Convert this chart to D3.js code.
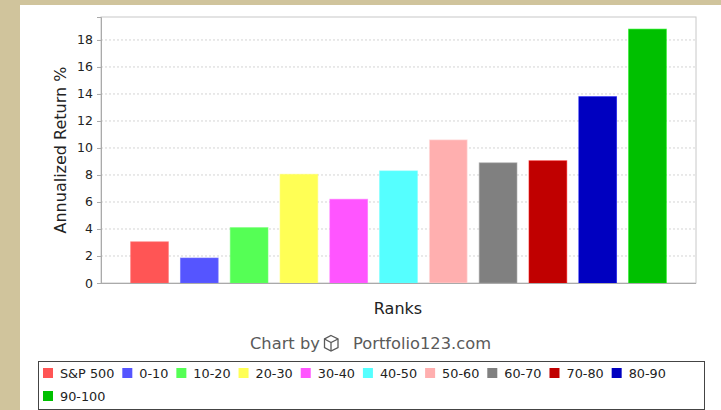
<!DOCTYPE html>
<html>
<head>
<meta charset="utf-8">
<script src="https://cdnjs.cloudflare.com/ajax/libs/d3/7.8.5/d3.min.js"></script>
<style>
  body { margin: 0; background: #d0c49c; }
  svg { display: block; font-family: "DejaVu Sans", sans-serif; }
</style>
</head>
<body>
<svg id="chart" width="721" height="410"></svg>
<script>
// data
const ranks = ['S&P 500', '0-10', '10-20', '20-30', '30-40', '40-50', '50-60', '60-70', '70-80', '80-90', '90-100'];
const returns = [3.05, 1.85, 4.1, 8.05, 6.2, 8.3, 10.6, 8.9, 9.05, 13.8, 18.8];
const colors = ['#ff5555', '#5555ff', '#55ff55', '#ffff55', '#ff55ff', '#55ffff', '#ffafaf', '#808080', '#c00000', '#0000c0', '#00c000'];
const yTicks = [0, 2, 4, 6, 8, 10, 12, 14, 16, 18];

const svg = d3.select('#chart');

// white panel
svg.append('rect').attr('x', 20).attr('y', 5).attr('width', 701).attr('height', 405).attr('fill', '#fff');

const plot = { left: 101, right: 696, top: 17, bottom: 283 };

const x = d3.scaleBand()
  .domain(ranks)
  .range([plot.left, plot.right])
  .paddingInner(0.243)
  .paddingOuter(0.596);

const y = d3.scaleLinear()
  .domain([0, 19.7])
  .range([plot.bottom, plot.top]);

// grid
svg.append('g')
  .selectAll('line')
  .data(yTicks.filter(d => d > 0))
  .enter()
  .append('line')
    .attr('x1', plot.left)
    .attr('x2', plot.right)
    .attr('y1', d => y(d))
    .attr('y2', d => y(d))
    .attr('stroke', '#d4d4d4')
    .attr('stroke-dasharray', '2,2');

// plot outline
svg.append('rect')
  .attr('x', plot.left)
  .attr('y', plot.top)
  .attr('width', plot.right - plot.left)
  .attr('height', plot.bottom - plot.top)
  .attr('fill', 'none')
  .attr('stroke', '#c8c8c8');

// bars
svg.append('g')
  .selectAll('rect')
  .data(ranks)
  .enter()
  .append('rect')
    .attr('x', d => x(d))
    .attr('y', (d, i) => y(returns[i]))
    .attr('width', x.bandwidth())
    .attr('height', (d, i) => y(0) - y(returns[i]))
    .attr('fill', (d, i) => colors[i])
    .attr('stroke', (d, i) => d3.color(colors[i]).brighter(0.6))
    .attr('stroke-opacity', 0.6);

// Y axis
const yAxis = d3.axisLeft(y).tickValues(yTicks).tickSize(4).tickPadding(4);
const gy = svg.append('g')
  .attr('transform', `translate(${plot.left}, 0)`)
  .call(yAxis);
gy.select('.domain').attr('stroke', '#aaa');
gy.selectAll('.tick line').attr('stroke', '#aaa');
gy.selectAll('.tick text').attr('font-size', 12.5).attr('fill', '#222').attr('font-family', '"DejaVu Sans", sans-serif');

// X axis line
svg.append('line')
  .attr('x1', plot.left).attr('x2', plot.right)
  .attr('y1', plot.bottom + 0.5).attr('y2', plot.bottom + 0.5)
  .attr('stroke', '#aaa');

// axis labels
svg.append('text')
  .attr('transform', 'translate(66, 150) rotate(-90)')
  .attr('text-anchor', 'middle')
  .attr('font-size', 16)
  .attr('fill', '#222')
  .text('Annualized Return %');

svg.append('text')
  .attr('x', 398)
  .attr('y', 314)
  .attr('text-anchor', 'middle')
  .attr('font-size', 16)
  .attr('fill', '#222')
  .text('Ranks');

// credit
const credit = svg.append('g').attr('fill', '#5a5a5a').attr('font-size', 16.3);
credit.append('text').attr('x', 250).attr('y', 349).text('Chart by');
const cube = svg.append('g').attr('transform', 'translate(324, 335)').attr('fill', 'none').attr('stroke', '#5a5a5a').attr('stroke-width', 1.3);
cube.append('path').attr('d', 'M7,0.5 L14,4 L14,12.5 L7,16 L0.5,12.5 L0.5,4 Z');
cube.append('path').attr('d', 'M0.5,4 L7,7.5 L14,4 M7,7.5 L7,16');
credit.append('text').attr('x', 353).attr('y', 349).text('Portfolio123.com');

// legend
svg.append('rect')
  .attr('x', 38.5).attr('y', 361.5)
  .attr('width', 666).attr('height', 48)
  .attr('fill', '#fff')
  .attr('stroke', '#444');

const legend = svg.append('g').attr('font-size', 12.8).attr('fill', '#222');
let lx = 43, ly = 373;
ranks.forEach((r, i) => {
  if (lx + 17 + r.length * 8.2 > 700) { lx = 43; ly += 23; }
  legend.append('rect')
    .attr('x', lx).attr('y', ly - 5)
    .attr('width', 10).attr('height', 10)
    .attr('fill', colors[i]);
  const t = legend.append('text')
    .attr('x', lx + 17).attr('y', ly + 5)
    .text(r);
  lx += 17 + t.node().getComputedTextLength() + 8;
});
</script>
</body>
</html>
